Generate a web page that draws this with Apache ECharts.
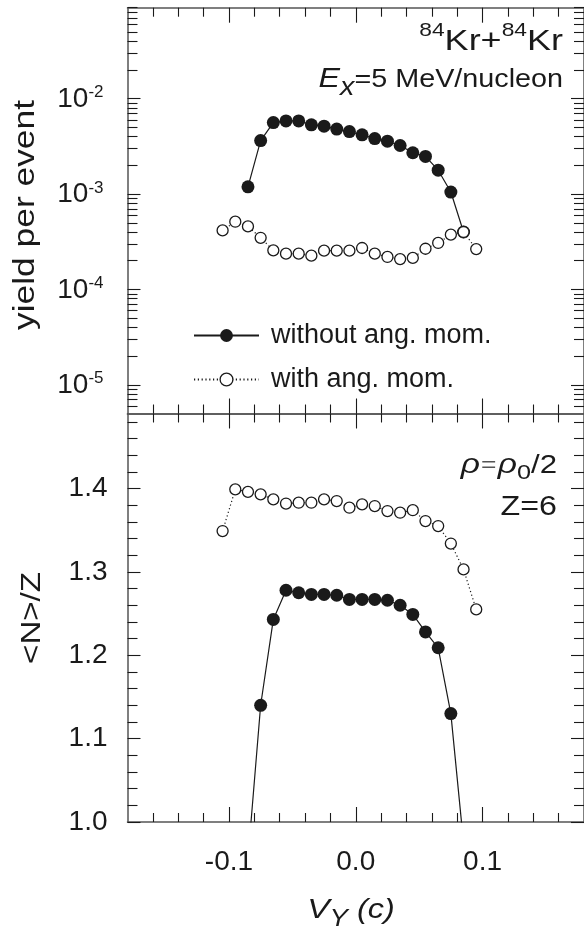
<!DOCTYPE html>
<html>
<head>
<meta charset="utf-8">
<script src="https://cdn.jsdelivr.net/npm/echarts@6/dist/echarts.min.js"></script>
<style>
  html, body { margin: 0; padding: 0; background: #fff; }
  #chart { width: 584px; height: 933px; }
</style>
</head>
<body>
<div id="chart"></div>
<script>
// V_Y (c) of the points
const vyWithout = [-0.085, -0.075, -0.065, -0.055, -0.045, -0.035, -0.025, -0.015, -0.005,
  0.005, 0.015, 0.025, 0.035, 0.045, 0.055, 0.065, 0.075, 0.085]
const vyWith = [-0.105, -0.095, -0.085, -0.075, -0.065, -0.055, -0.045, -0.035, -0.025, -0.015, -0.005,
  0.005, 0.015, 0.025, 0.035, 0.045, 0.055, 0.065, 0.075, 0.085, 0.095]

// yield per event (upper panel)
const yieldWithout = [1.19e-3, 3.64e-3, 5.62e-3, 5.85e-3, 5.85e-3, 5.32e-3, 5.15e-3, 4.80e-3, 4.52e-3,
  4.18e-3, 3.82e-3, 3.59e-3, 3.23e-3, 2.71e-3, 2.48e-3, 1.78e-3, 1.05e-3, 4.0e-4]
const yieldWith = [4.16e-4, 5.13e-4, 4.58e-4, 3.48e-4, 2.57e-4, 2.37e-4, 2.37e-4, 2.26e-4, 2.55e-4, 2.55e-4, 2.55e-4,
  2.72e-4, 2.37e-4, 2.19e-4, 2.08e-4, 2.14e-4, 2.67e-4, 3.07e-4, 3.75e-4, 4.00e-4, 2.65e-4]

// <N>/Z (lower panel)
const nzWithout = [0.956, 1.140, 1.243, 1.278, 1.275, 1.273, 1.273, 1.272, 1.267,
  1.267, 1.267, 1.266, 1.260, 1.249, 1.228, 1.209, 1.130, 0.975]
const nzWith = [1.349, 1.399, 1.396, 1.393, 1.387, 1.382, 1.383, 1.383, 1.387, 1.385, 1.377,
  1.381, 1.379, 1.373, 1.371, 1.374, 1.361, 1.355, 1.334, 1.303, 1.255]

const seriesNames = ['without ang. mom.', 'with ang. mom.']

// ticks
const xMajorTicks = [-0.1, 0, 0.1]
const yieldMajorTicks = [1e-5, 1e-4, 1e-3, 1e-2]
const nzMajorTicks = [1.0, 1.1, 1.2, 1.3, 1.4]

const xMinorTicks = []
for (let k = -8; k <= 8; k++) {
  if (k % 5 !== 0) xMinorTicks.push(k / 50)
}
const yieldMinorTicks = []
for (let e = -6; e <= -2; e++) {
  for (let m = 2; m <= 9; m++) yieldMinorTicks.push(m * Math.pow(10, e))
}
const nzMinorTicks = []
for (let k = 51; k <= 74; k++) {
  if (k % 5 !== 0) nzMinorTicks.push(k / 50)
}

const font = '"Liberation Sans", Arial, Helvetica, sans-serif'
const ink = '#1a1a1a'
const frame = '#555'

function xAxis(gridIndex, position, ticks, len, withLine, withLabel) {
  return {
    type: 'value',
    gridIndex: gridIndex,
    position: position,
    min: -0.18,
    max: 0.18,
    axisLine: { show: withLine, onZero: false, lineStyle: { color: frame, width: 1.5 } },
    axisTick: { show: true, inside: true, length: len, customValues: ticks, lineStyle: { color: ink, width: 1.1 } },
    axisLabel: {
      show: withLabel,
      customValues: xMajorTicks,
      margin: 26,
      fontSize: 28,
      fontFamily: font,
      color: ink,
      formatter: v => v.toFixed(1)
    },
    splitLine: { show: false }
  }
}

function logAxis(position, ticks, len, withLine, withLabel) {
  return {
    type: 'log',
    logBase: 10,
    gridIndex: 0,
    position: position,
    min: 5e-6,
    max: 0.09,
    axisLine: { show: withLine, onZero: false, lineStyle: { color: frame, width: 1.5 } },
    axisTick: { show: true, inside: true, length: len, customValues: ticks, lineStyle: { color: ink, width: 1.1 } },
    axisLabel: {
      show: withLabel,
      customValues: yieldMajorTicks,
      margin: 24,
      formatter: v => '{b|10}{s|' + Math.round(Math.log10(v)) + '}',
      rich: {
        b: { fontSize: 28, fontFamily: font, color: ink, verticalAlign: 'bottom' },
        s: { fontSize: 17, fontFamily: font, color: ink, verticalAlign: 'top', padding: [0, 0, 12, 0] }
      }
    },
    splitLine: { show: false }
  }
}

function nzAxis(position, ticks, len, withLine, withLabel) {
  return {
    type: 'value',
    gridIndex: 1,
    position: position,
    min: 1.0,
    max: 1.49,
    axisLine: { show: withLine, onZero: false, lineStyle: { color: frame, width: 1.5 } },
    axisTick: { show: true, inside: true, length: len, customValues: ticks, lineStyle: { color: ink, width: 1.1 } },
    axisLabel: {
      show: withLabel,
      customValues: nzMajorTicks,
      margin: 20,
      fontSize: 28,
      fontFamily: font,
      color: ink,
      formatter: v => v.toFixed(1)
    },
    splitLine: { show: false }
  }
}

function pairs(xs, ys) {
  return xs.map((x, i) => [x, ys[i]])
}

const filledStyle = {
  type: 'line',
  symbol: 'circle',
  symbolSize: 13,
  itemStyle: { color: ink },
  lineStyle: { color: ink, width: 1.2 },
  clip: true
}
const openStyle = {
  type: 'line',
  symbol: 'circle',
  symbolSize: 11,
  itemStyle: { color: '#fff', borderColor: ink, borderWidth: 1.3 },
  lineStyle: { color: ink, width: 1.2, type: [1.2, 2.6] },
  clip: true
}

const chart = echarts.init(document.getElementById('chart'))

chart.setOption({
  animation: false,
  backgroundColor: '#fff',
  grid: [
    { left: 127.5, top: 7.7, width: 459, height: 405.8 },
    { left: 127.5, top: 413.5, width: 459, height: 408.5 }
  ],
  xAxis: [
    xAxis(0, 'bottom', xMajorTicks, 15, true, false),
    xAxis(0, 'bottom', xMinorTicks, 9, false, false),
    xAxis(0, 'top', xMajorTicks, 15, true, false),
    xAxis(0, 'top', xMinorTicks, 9, false, false),
    xAxis(1, 'bottom', xMajorTicks, 15, true, true),
    xAxis(1, 'bottom', xMinorTicks, 9, false, false),
    xAxis(1, 'top', xMajorTicks, 15, true, false),
    xAxis(1, 'top', xMinorTicks, 9, false, false)
  ],
  yAxis: [
    logAxis('left', yieldMajorTicks, 13, true, true),
    logAxis('left', yieldMinorTicks, 10, false, false),
    logAxis('right', yieldMajorTicks, 13, true, false),
    logAxis('right', yieldMinorTicks, 10, false, false),
    nzAxis('left', nzMajorTicks, 13, true, true),
    nzAxis('left', nzMinorTicks, 10, false, false),
    nzAxis('right', nzMajorTicks, 13, true, false),
    nzAxis('right', nzMinorTicks, 10, false, false)
  ],
  legend: {
    orient: 'vertical',
    left: 188,
    top: 317,
    itemWidth: 65,
    itemHeight: 16,
    itemGap: 17,
    selectedMode: false,
    data: seriesNames,
    itemStyle: { borderWidth: 1.3 },
    textStyle: { fontFamily: font, fontSize: 27, color: ink, padding: [0, 0, 0, 7] }
  },
  series: [
    Object.assign({ name: seriesNames[0], xAxisIndex: 0, yAxisIndex: 0, data: pairs(vyWithout, yieldWithout) }, filledStyle),
    Object.assign({ name: seriesNames[1], xAxisIndex: 0, yAxisIndex: 0, data: pairs(vyWith, yieldWith) }, openStyle),
    Object.assign({ name: seriesNames[0], xAxisIndex: 4, yAxisIndex: 4, data: pairs(vyWithout, nzWithout) }, filledStyle),
    Object.assign({ name: seriesNames[1], xAxisIndex: 4, yAxisIndex: 4, data: pairs(vyWith, nzWith) }, openStyle)
  ],
  graphic: [
    {
      type: 'text', x: 26, y: 215, rotation: Math.PI / 2, scaleX: 1.22,
      style: { text: 'yield per event', fill: ink, fontFamily: font, fontSize: 29, align: 'center', verticalAlign: 'middle' }
    },
    {
      type: 'text', x: 32, y: 618, rotation: Math.PI / 2, scaleX: 1.18,
      style: { text: '<N>/Z', fill: ink, fontFamily: font, fontSize: 28, align: 'center', verticalAlign: 'middle' }
    },
    {
      type: 'text', x: 563, y: 57, scaleX: 1.2,
      style: {
        text: '{s|84}{m|Kr+}{s|84}{m|Kr}',
        align: 'right', verticalAlign: 'bottom', fill: ink,
        rich: {
          m: { fontSize: 30, fontFamily: font, fill: ink, verticalAlign: 'bottom' },
          s: { fontSize: 19, fontFamily: font, fill: ink, verticalAlign: 'top', padding: [0, 0, 17, 0] }
        }
      }
    },
    {
      type: 'text', x: 563, y: 101, scaleX: 1.15,
      style: {
        text: '{e|E}{x|x}{t|=5 MeV/nucleon}',
        align: 'right', verticalAlign: 'bottom', fill: ink,
        rich: {
          e: { fontSize: 28, fontFamily: font, fontStyle: 'italic', fill: ink, verticalAlign: 'bottom', padding: [0, 0, 8, 0] },
          x: { fontSize: 25, fontFamily: font, fontStyle: 'italic', fill: ink, verticalAlign: 'bottom' },
          t: { fontSize: 25, fontFamily: font, fill: ink, verticalAlign: 'bottom', padding: [0, 0, 8, 0] }
        }
      }
    },
    {
      type: 'text', x: 557, y: 484, scaleX: 1.2,
      style: {
        text: '{r|ρ}{q|=}{r|ρ}{z|0}{t|/2}',
        align: 'right', verticalAlign: 'bottom', fill: ink,
        rich: {
          r: { fontSize: 28, fontFamily: font, fontStyle: 'italic', fill: ink, verticalAlign: 'bottom', padding: [0, 0, 5, 0] },
          q: { fontSize: 22, fontFamily: font, fill: '#555', verticalAlign: 'bottom', padding: [0, 1, 7, 1] },
          z: { fontSize: 21, fontFamily: font, fill: ink, verticalAlign: 'bottom' },
          t: { fontSize: 26, fontFamily: font, fill: ink, verticalAlign: 'bottom', padding: [0, 0, 5, 0] }
        }
      }
    },
    {
      type: 'text', x: 557, y: 521, scaleX: 1.15,
      style: { text: 'Z=6', fill: ink, fontFamily: font, fontSize: 28, align: 'right', verticalAlign: 'bottom' }
    },
    {
      type: 'text', x: 351, y: 931, scaleX: 1.2,
      style: {
        text: '{v|V}{s|Y}{c| (c)}',
        align: 'center', verticalAlign: 'bottom', fill: ink,
        rich: {
          v: { fontSize: 28, fontFamily: font, fontStyle: 'italic', fill: ink, verticalAlign: 'bottom', padding: [0, 0, 7, 0] },
          s: { fontSize: 23, fontFamily: font, fontStyle: 'italic', fill: ink, verticalAlign: 'bottom' },
          c: { fontSize: 27, fontFamily: font, fontStyle: 'italic', fill: ink, verticalAlign: 'bottom', padding: [0, 0, 7, 0] }
        }
      }
    }
  ]
})
</script>
</body>
</html>
